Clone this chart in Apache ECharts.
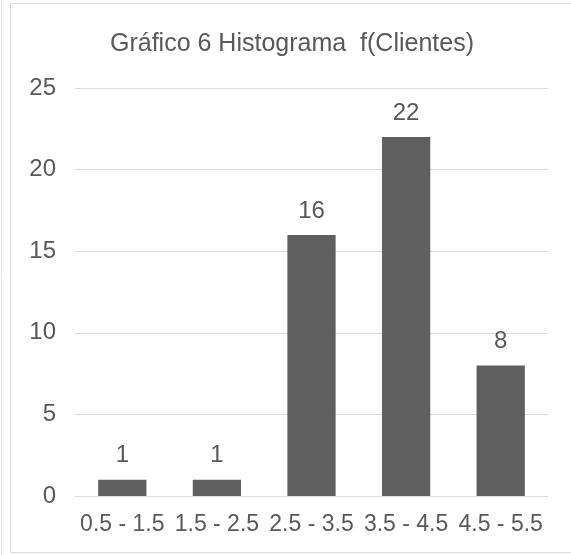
<!DOCTYPE html>
<html>
<head>
<meta charset="utf-8">
<script src="https://cdn.jsdelivr.net/npm/echarts@6/dist/echarts.min.js"></script>
<style>
  html, body { margin: 0; padding: 0; background: #ffffff; }
  #chart { width: 571px; height: 555px; }
</style>
</head>
<body>
<div id="chart"></div>
<script>
// Class intervals (number of clients) and their frequencies
const categories = ['0.5 - 1.5', '1.5 - 2.5', '2.5 - 3.5', '3.5 - 4.5', '4.5 - 5.5'];
const frequencies = [1, 1, 16, 22, 8];
const titleText = 'Gráfico 6 Histograma  f(Clientes)';

const textColor = '#595959';
const fontFamily = '"Liberation Sans", Arial, sans-serif';

const chart = echarts.init(document.getElementById('chart'), null, { renderer: 'canvas' });

chart.setOption({
  animation: false,
  backgroundColor: '#ffffff',
  graphic: [
    {
      type: 'rect',
      shape: { x: 10.5, y: 3.5, width: 570, height: 549 },
      style: { fill: 'none', stroke: '#d9d9d9', lineWidth: 1 },
      silent: true
    },
    {
      type: 'line',
      shape: { x1: 1.5, y1: 0, x2: 1.5, y2: 555 },
      style: { stroke: '#e3e3e3', lineWidth: 1 },
      silent: true
    }
  ],
  title: {
    text: titleText,
    left: 287,
    textAlign: 'center',
    top: 27,
    textStyle: {
      color: textColor,
      fontFamily: fontFamily,
      fontSize: 25,
      fontWeight: 'normal'
    }
  },
  grid: {
    left: 75,
    right: 23,
    top: 88,
    bottom: 59,
    containLabel: false
  },
  xAxis: {
    type: 'category',
    data: categories,
    axisLine: { show: true, lineStyle: { color: '#d9d9d9', width: 1 } },
    axisTick: { show: false },
    axisLabel: {
      color: textColor,
      fontFamily: fontFamily,
      fontSize: 23,
      margin: 17,
      interval: 0
    }
  },
  yAxis: {
    type: 'value',
    min: 0,
    max: 25,
    interval: 5,
    axisLine: { show: false },
    axisTick: { show: false },
    splitLine: { lineStyle: { color: '#d9d9d9', width: 1 } },
    axisLabel: {
      color: textColor,
      fontFamily: fontFamily,
      fontSize: 24,
      margin: 19
    }
  },
  series: [
    {
      type: 'bar',
      data: frequencies,
      barWidth: '51%',
      itemStyle: { color: '#5f5f5f' },
      label: {
        show: true,
        position: 'top',
        distance: 12,
        color: textColor,
        fontFamily: fontFamily,
        fontSize: 24
      }
    }
  ]
});
</script>
</body>
</html>
